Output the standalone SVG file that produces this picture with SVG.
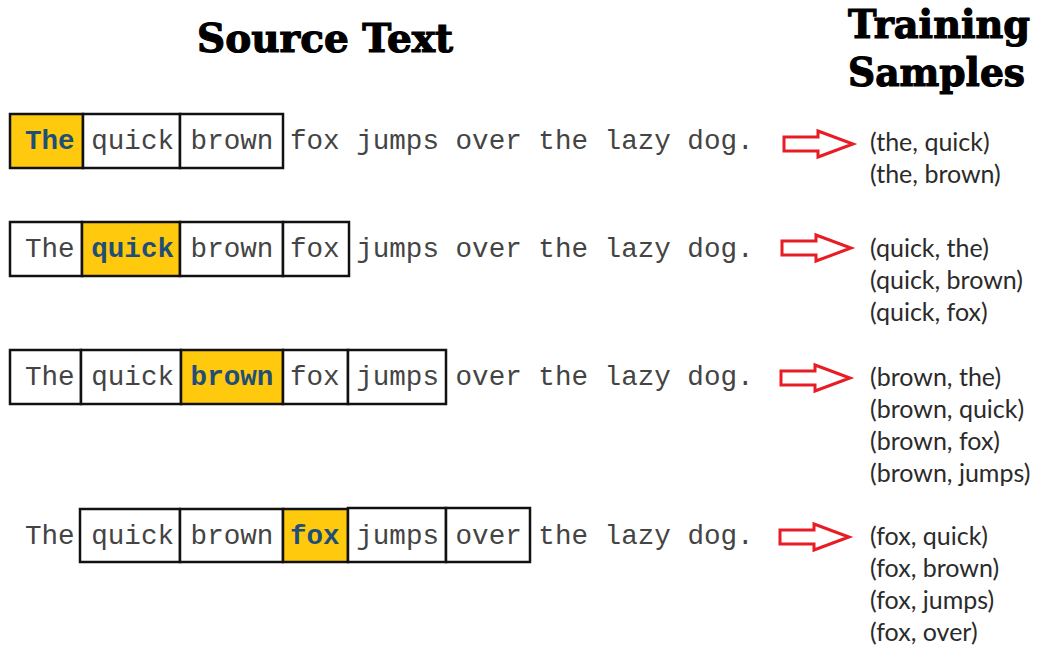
<svg xmlns="http://www.w3.org/2000/svg" width="1041" height="646" viewBox="0 0 1041 646">
  <style>
    .title { font-family: "DejaVu Serif", "Liberation Serif", serif; font-weight: bold; font-size: 40px; fill: #000; stroke: #000; stroke-width: 1.2px; }
    .mono { font-family: "Liberation Mono", "Courier New", monospace; font-size: 27.6px; fill: #444; }
    .hl { font-weight: bold; fill: #1f4e79; }
    .cell { fill: #fff; stroke: #111; stroke-width: 2.5; }
    .cell.on { fill: #ffc90e; }
    .pair { font-family: Lato, "Open Sans", "Liberation Sans", sans-serif; font-size: 25px; fill: #2b2b2b; }
    .arrow { fill: #fff; stroke: #e81c24; stroke-width: 3; stroke-linejoin: miter; }
  </style>
  <defs>
    <!-- block arrow, origin at left end of shaft, centred vertically -->
    <path id="blockArrowShape" d="M0,-7 H34 V-13 L69,0 L34,13 V7 H0 Z"/>
  </defs>
  <rect width="1041" height="646" fill="#fff"/>

  <!-- headings -->
  <g id="heading-source">
    <text class="title" x="197" y="52" textLength="256" lengthAdjust="spacingAndGlyphs">Source Text</text>
  </g>
  <g id="heading-training">
    <text class="title" x="848" y="38" textLength="182" lengthAdjust="spacingAndGlyphs">Training</text>
    <text class="title" x="848" y="86" textLength="177" lengthAdjust="spacingAndGlyphs">Samples</text>
  </g>

  <!-- row 1: centre word "The" -->
  <g id="row1">
    <rect class="cell on" x="10" y="114" width="73" height="54"/>
    <rect class="cell" x="83" y="114" width="97" height="54"/>
    <rect class="cell" x="180" y="114" width="103" height="54"/>
    <text class="mono" x="25" y="149" xml:space="preserve"><tspan class="hl">The</tspan> quick brown fox jumps over the lazy dog.</text>
  </g>

  <!-- row 2: centre word "quick" -->
  <g id="row2">
    <rect class="cell" x="10" y="222" width="72" height="54"/>
    <rect class="cell on" x="82" y="222" width="98" height="54"/>
    <rect class="cell" x="180" y="222" width="103" height="54"/>
    <rect class="cell" x="283" y="222" width="66" height="54"/>
    <text class="mono" x="25" y="257" xml:space="preserve">The <tspan class="hl">quick</tspan> brown fox jumps over the lazy dog.</text>
  </g>

  <!-- row 3: centre word "brown" -->
  <g id="row3">
    <rect class="cell" x="10" y="350" width="71" height="54"/>
    <rect class="cell" x="81" y="350" width="100" height="54"/>
    <rect class="cell on" x="181" y="350" width="102" height="54"/>
    <rect class="cell" x="283" y="350" width="65" height="54"/>
    <rect class="cell" x="348" y="350" width="98" height="54"/>
    <text class="mono" x="25" y="385" xml:space="preserve">The quick <tspan class="hl">brown</tspan> fox jumps over the lazy dog.</text>
  </g>

  <!-- row 4: centre word "fox" -->
  <g id="row4">
    <rect class="cell" x="80" y="509" width="100" height="53"/>
    <rect class="cell" x="180" y="509" width="103" height="53"/>
    <rect class="cell on" x="283" y="509" width="65" height="53"/>
    <rect class="cell" x="348" y="508" width="98" height="54"/>
    <rect class="cell" x="446" y="508" width="84" height="54"/>
    <text class="mono" x="25" y="544" xml:space="preserve">The quick brown <tspan class="hl">fox</tspan> jumps over the lazy dog.</text>
  </g>

  <!-- arrows from each sentence to its samples -->
  <g id="connectors">
    <use href="#blockArrowShape" class="arrow" x="784" y="144"/>
    <use href="#blockArrowShape" class="arrow" x="782" y="248"/>
    <use href="#blockArrowShape" class="arrow" x="781" y="378"/>
    <use href="#blockArrowShape" class="arrow" x="780" y="537"/>
  </g>

  <!-- generated (centre, context) pairs -->
  <g id="samples1">
    <text class="pair" x="870" y="151">(the, quick)</text>
    <text class="pair" x="870" y="183">(the, brown)</text>
  </g>
  <g id="samples2">
    <text class="pair" x="870" y="257">(quick, the)</text>
    <text class="pair" x="870" y="289">(quick, brown)</text>
    <text class="pair" x="870" y="321">(quick, fox)</text>
  </g>
  <g id="samples3">
    <text class="pair" x="870" y="386">(brown, the)</text>
    <text class="pair" x="870" y="418">(brown, quick)</text>
    <text class="pair" x="870" y="450">(brown, fox)</text>
    <text class="pair" x="870" y="482">(brown, jumps)</text>
  </g>
  <g id="samples4">
    <text class="pair" x="870" y="545">(fox, quick)</text>
    <text class="pair" x="870" y="577">(fox, brown)</text>
    <text class="pair" x="870" y="609">(fox, jumps)</text>
    <text class="pair" x="870" y="641">(fox, over)</text>
  </g>
</svg>
